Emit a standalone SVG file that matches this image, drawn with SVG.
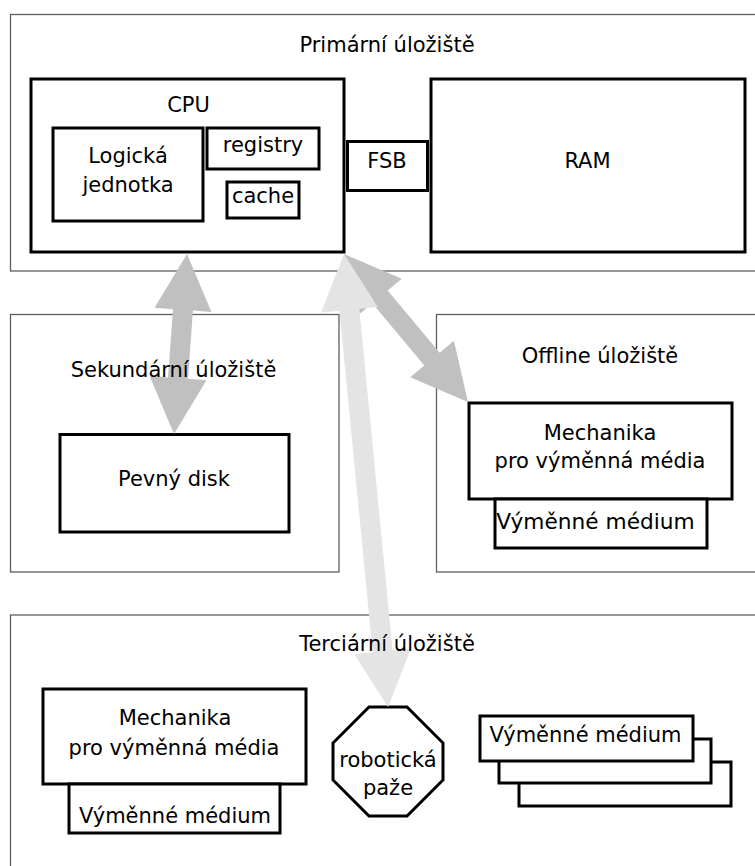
<svg xmlns="http://www.w3.org/2000/svg" width="755" height="866" viewBox="0 0 755 866">
<style>
.area{fill:#fff;stroke:#5e5e5e;stroke-width:1.3}
.box{fill:#fff;stroke:#000;stroke-width:3}
text{font-family:"DejaVu Sans","Liberation Sans",sans-serif;font-size:21px;fill:#000;text-anchor:middle}
.dark{fill:#c0c0c0}
.light{fill:#e4e4e4}
</style>
<rect width="755" height="866" fill="#fff"/>
<g id="primarni-uloziste"><rect class="area" x="10.5" y="14.5" width="760" height="256.5"/></g>
<g id="sekundarni-uloziste"><rect class="area" x="10.5" y="314.5" width="328.5" height="257.5"/></g>
<g id="offline-uloziste"><rect class="area" x="436.5" y="314.5" width="330" height="257.5"/></g>
<g id="terciarni-uloziste"><rect class="area" x="10.5" y="615" width="760" height="260"/></g>

<g id="cpu"><rect class="box" x="31" y="79" width="313" height="173"/><text x="188.5" y="112">CPU</text></g>
<g id="logicka-jednotka"><rect class="box" x="53" y="128" width="150" height="93"/><text x="128" y="163">Logická</text><text x="128" y="192">jednotka</text></g>
<g id="registry"><rect class="box" x="207" y="128" width="112" height="41"/><text x="263" y="152">registry</text></g>
<g id="cache"><rect class="box" x="227" y="182" width="72" height="36"/><text x="263" y="203">cache</text></g>
<g id="fsb"><rect class="box" x="347.5" y="141.5" width="80" height="49"/><text x="387" y="168">FSB</text></g>
<g id="ram"><rect class="box" x="431" y="79" width="314" height="173"/><text x="587.5" y="168">RAM</text></g>

<g id="pevny-disk"><rect class="box" x="60" y="434.5" width="229" height="97.5"/><text x="174" y="486">Pevný disk</text></g>

<g id="offline-mechanika"><rect class="box" x="469" y="403" width="263" height="96"/><text x="600" y="440">Mechanika</text><text x="600" y="468">pro výměnná média</text></g>
<g id="offline-medium"><rect class="box" x="495" y="499" width="212" height="49"/><text x="595.5" y="529" style="font-size:21.7px">Výměnné médium</text></g>

<g id="terciarni-mechanika"><rect class="box" x="43" y="689" width="263" height="95"/><text x="175" y="725">Mechanika</text><text x="174" y="755">pro výměnná média</text></g>
<g id="terciarni-medium"><rect class="box" x="69" y="784" width="211" height="49"/><text x="175" y="823">Výměnné médium</text></g>

<g id="roboticka-paze"><polygon class="box" points="369,707 407,707 443,743 443,780 407,816 369,816 333,780 333,743"/><text x="388" y="767">robotická</text><text x="388" y="795">paže</text></g>

<g id="media-stack">
<rect class="box" x="519" y="762" width="212" height="44"/>
<rect class="box" x="499" y="739" width="212" height="44"/>
<rect class="box" x="480" y="716" width="213" height="45"/>
<text x="585.5" y="742">Výměnné médium</text>
</g>

<g id="connectors">
<polygon class="dark" points="187,254 154.54,307.8 173,309.13 168.06,377.43 149.6,376.1 174,434 206.46,380.2 188,378.87 192.94,310.57 211.4,311.9"/>
<polygon class="dark" points="344,254 358.11,315.23 372.29,303.35 424.37,365.49 410.19,377.37 468,402 453.89,340.77 439.71,352.65 387.63,290.51 401.81,278.63"/>
<polygon class="light" points="344,254 321.04,312.5 339.46,310.71 372.64,652.23 354.22,654.02 388,707 410.96,648.5 392.54,650.29 359.36,308.77 377.78,306.98"/>
</g>

<g id="area-labels">
<text x="387" y="52">Primární úložiště</text>
<text x="173.5" y="377">Sekundární úložiště</text>
<text x="600" y="363">Offline úložiště</text>
<text x="387" y="651">Terciární úložiště</text>
</g>
</svg>
